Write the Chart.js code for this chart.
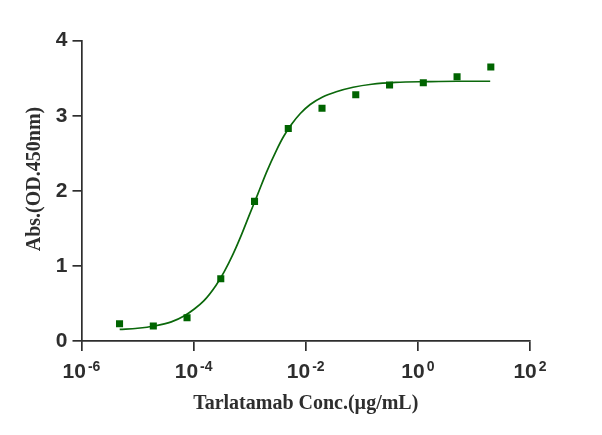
<!DOCTYPE html>
<html>
<head>
<meta charset="utf-8">
<script src="https://cdn.jsdelivr.net/npm/chart.js@4.4.1/dist/chart.umd.min.js"></script>
<style>
  html, body { margin: 0; padding: 0; background: #fff; }
</style>
</head>
<body>
<canvas id="chart" width="602" height="435"></canvas>
<script>
// measured points (4-fold dilution from 20 ug/mL)
const concentrations = [4.77e-6, 1.91e-5, 7.63e-5, 3.05e-4, 1.22e-3, 4.88e-3, 0.0195, 0.078, 0.3125, 1.25, 5, 20];
const absorbance = [0.23, 0.20, 0.31, 0.83, 1.86, 2.83, 3.10, 3.28, 3.41, 3.44, 3.52, 3.65];

// fitted curve
const fitX = [4.8e-6, 1e-5, 2e-5, 4e-5, 7e-5, 1e-4, 1.5e-4, 2.5e-4, 3.5e-4, 5e-4, 7e-4, 1e-3, 1.4e-3, 2e-3, 3e-3, 4e-3, 5.5e-3, 8e-3, 0.012, 0.02, 0.035, 0.07, 0.15, 0.4, 1.5, 5, 19.5];
const fitY = [0.155, 0.17, 0.20, 0.255, 0.34, 0.42, 0.53, 0.74, 0.92, 1.15, 1.40, 1.69, 1.96, 2.25, 2.54, 2.72, 2.88, 3.03, 3.15, 3.25, 3.32, 3.38, 3.42, 3.445, 3.455, 3.46, 3.46];

const xTickValues = [1e-6, 1e-4, 1e-2, 1, 1e2];
const xTickExponents = ['-6', '-4', '-2', '0', '2'];
const yTickValues = [0, 1, 2, 3, 4];

const xTitle = 'Tarlatamab Conc.(µg/mL)';
const yTitle = 'Abs.(OD.450nm)';

const axisColor = '#2e2e2e';
const green = '#006400';

// draws 10^n tick labels and both axis titles
const axisText = {
  id: 'axisText',
  afterDraw(chart) {
    const { ctx, chartArea } = chart;
    const x = chart.scales.x;
    ctx.save();
    ctx.fillStyle = axisColor;
    ctx.textBaseline = 'alphabetic';
    ctx.textAlign = 'left';
    x.ticks.forEach(t => {
      const exp = xTickExponents[xTickValues.indexOf(t.value)];
      if (exp === undefined) return;
      const px = x.getPixelForValue(t.value);
      ctx.font = 'bold 21px "Liberation Sans", Arial, sans-serif';
      const w1 = ctx.measureText('10').width;
      ctx.font = 'bold 14px "Liberation Sans", Arial, sans-serif';
      const w2 = ctx.measureText(exp).width;
      const left = px - (w1 + 2 + w2) / 2;
      ctx.font = 'bold 21px "Liberation Sans", Arial, sans-serif';
      ctx.fillText('10', left, chartArea.bottom + 37);
      ctx.font = 'bold 14px "Liberation Sans", Arial, sans-serif';
      ctx.fillText(exp, left + w1 + 2, chartArea.bottom + 29.5);
    });

    ctx.font = 'bold 20px "Liberation Serif", "Times New Roman", serif';
    ctx.textAlign = 'center';
    ctx.fillText(xTitle, (chartArea.left + chartArea.right) / 2, chartArea.bottom + 68);

    ctx.translate(35, 179);
    ctx.rotate(-Math.PI / 2);
    ctx.textBaseline = 'middle';
    ctx.fillText(yTitle, 0, 0);
    ctx.restore();
  }
};

new Chart(document.getElementById('chart'), {
  type: 'scatter',
  data: {
    datasets: [
      {
        label: 'fit',
        data: fitX.map((v, i) => ({ x: v, y: fitY[i] })),
        showLine: true,
        pointRadius: 0,
        borderColor: '#0b680b',
        borderWidth: 1.7,
        cubicInterpolationMode: 'monotone',
        order: 2
      },
      {
        label: 'data',
        data: concentrations.map((v, i) => ({ x: v, y: absorbance[i] })),
        pointStyle: 'rect',
        pointRadius: 5,
        backgroundColor: green,
        borderColor: green,
        borderWidth: 0,
        order: 1
      }
    ]
  },
  options: {
    responsive: false,
    animation: false,
    layout: { padding: { top: 40.7, right: 72, left: 0, bottom: 0 } },
    plugins: { legend: { display: false }, tooltip: { enabled: false } },
    scales: {
      x: {
        type: 'logarithmic',
        min: 1e-6,
        max: 1e2,
        afterBuildTicks: s => { s.ticks = xTickValues.map(v => ({ value: v })); },
        afterFit: s => { s.height = 94; },
        ticks: { display: false },
        grid: { drawOnChartArea: false, drawTicks: true, tickLength: 10, color: axisColor, lineWidth: 1.7 },
        border: { display: true, color: axisColor, width: 1.7 }
      },
      y: {
        type: 'linear',
        min: 0,
        max: 4,
        afterBuildTicks: s => { s.ticks = yTickValues.map(v => ({ value: v })); },
        afterFit: s => { s.width = 81.5; },
        ticks: {
          color: axisColor,
          padding: 5,
          font: { family: '"Liberation Sans", Arial, sans-serif', size: 21, weight: 'bold' }
        },
        grid: { drawOnChartArea: false, drawTicks: true, tickLength: 9, color: axisColor, lineWidth: 1.7 },
        border: { display: true, color: axisColor, width: 1.7 }
      }
    }
  },
  plugins: [axisText]
});
</script>
</body>
</html>
